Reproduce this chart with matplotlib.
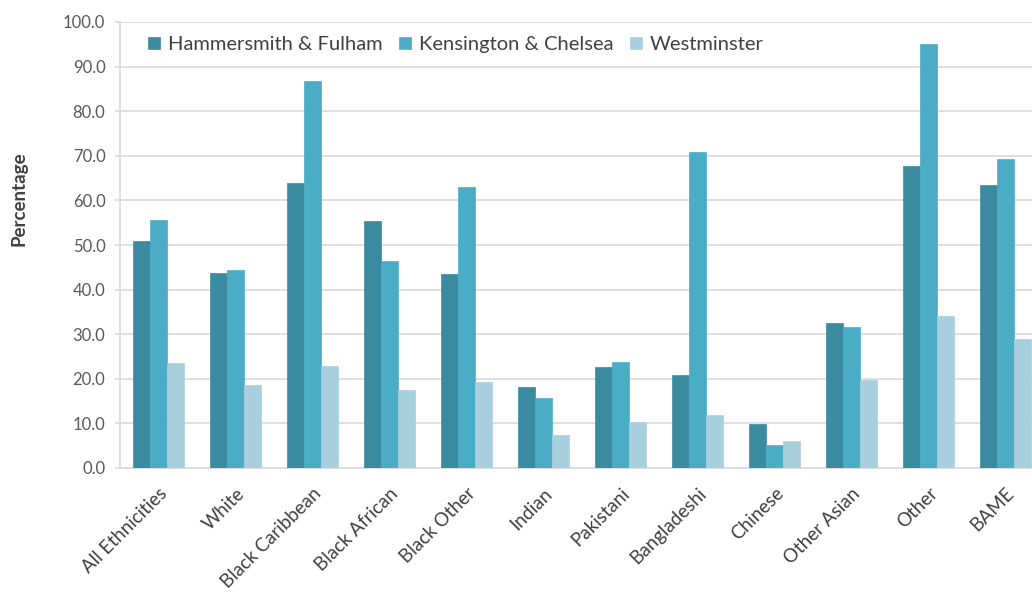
import numpy as np
import matplotlib.pyplot as plt

plt.rcParams['font.family'] = ['Lato', 'DejaVu Sans']

# Data
categories = ["All Ethnicities", "White", "Black Caribbean", "Black African", "Black Other",
              "Indian", "Pakistani", "Bangladeshi", "Chinese", "Other Asian", "Other", "BAME"]
boroughs = ["Hammersmith & Fulham", "Kensington & Chelsea", "Westminster"]
hammersmith = [51.0, 43.8, 63.8, 55.4, 43.5, 18.1, 22.6, 20.9, 9.9, 32.4, 67.7, 63.5]
kensington = [55.6, 44.4, 86.8, 46.4, 62.9, 15.6, 23.8, 70.9, 5.2, 31.7, 95.0, 69.2]
westminster = [23.5, 18.5, 22.9, 17.5, 19.2, 7.4, 10.4, 11.9, 6.0, 19.7, 34.1, 28.9]
colors = ["#3A8BA0", "#4BACC6", "#A8CFDE"]

fig = plt.figure(figsize=(10.32, 5.94), dpi=100)
# axes runs past the right edge like in the original cropped picture
ax = fig.add_axes([120 / 1032, 1 - 468 / 594, 924 / 1032, 446 / 594])

x = np.arange(len(categories))
w = 0.22
for i, (vals, name) in enumerate(zip([hammersmith, kensington, westminster], boroughs)):
    ax.bar(x + (i - 1) * w, vals, width=w, color=colors[i], label=name,
           edgecolor=colors[i], linewidth=0.5, zorder=3)

ax.set_xlim(-0.5, len(categories) - 0.5)
ax.set_ylim(0, 100)
ax.set_yticks(np.arange(0, 101, 10))
ax.set_yticklabels([f"{v:.1f}" for v in np.arange(0, 101, 10)])
ax.yaxis.grid(True, color="#D9D9D9", linewidth=1.2, zorder=0)
ax.set_axisbelow(True)

for s in ["top", "right"]:
    ax.spines[s].set_visible(False)
for s in ["left", "bottom"]:
    ax.spines[s].set_color("#D9D9D9")
    ax.spines[s].set_linewidth(1.2)

ax.tick_params(axis="y", colors="#595959", labelsize=12, length=3.5, width=1.2,
               color="#D9D9D9", pad=7)
ax.tick_params(axis="x", length=0, labelsize=13.5, labelcolor="#404040", pad=12)
ax.set_xticks(x)
ax.set_xticklabels(categories, rotation=45, ha="right", rotation_mode="anchor")

ax.set_ylabel("Percentage", fontsize=13.5, fontweight="bold", color="#404040")
ax.yaxis.set_label_coords(-0.1, 0.603)

ax.legend(loc="upper left", bbox_to_anchor=(0.015, 1.0), ncol=3, frameon=False,
          fontsize=14.5, handlelength=0.6, handleheight=0.6, handletextpad=0.4,
          columnspacing=0.8, labelcolor="#404040", borderaxespad=0.3)

fig.savefig("out.png", dpi=100)
